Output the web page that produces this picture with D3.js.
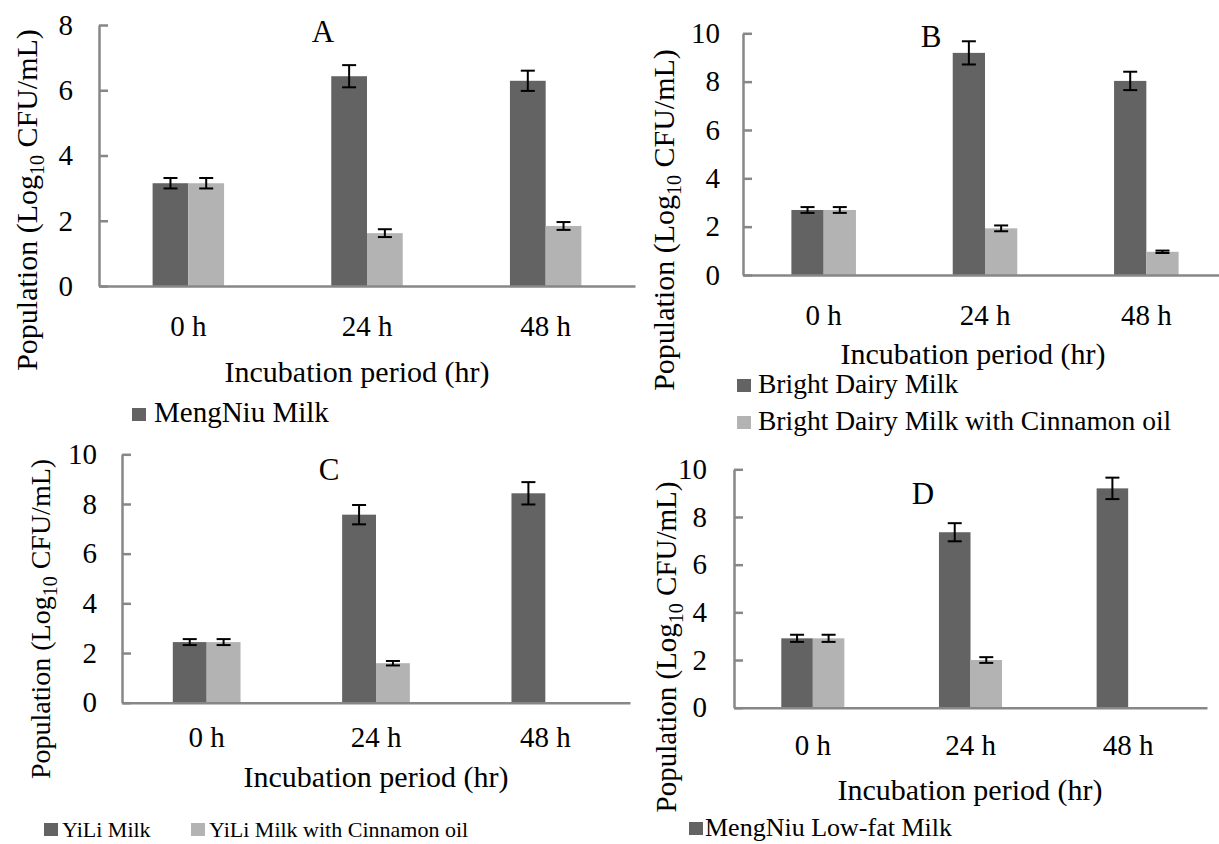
<!DOCTYPE html>
<meta charset="utf-8">
<style>
body { margin: 0; background: #fff; }
text { font-family: "Liberation Serif", "Times New Roman", serif; fill: #000; }
.axis path, .axis line { stroke: #878787; stroke-width: 2.5; }
</style>
<body>
<svg id="fig" width="1219" height="844"></svg>
<script src="https://d3js.org/d3.v7.min.js"></script>
<script>
// x categories
var hours = ["0 h", "24 h", "48 h"];

// A - MengNiu milk
var mengniuMilk = [3.15, 6.43, 6.29];
var mengniuMilkErr = [0.16, 0.34, 0.31];
var mengniuCinn = [3.15, 1.62, 1.84];
var mengniuCinnErr = [0.16, 0.12, 0.12];

// B - Bright Dairy
var brightMilk = [2.69, 9.19, 8.03];
var brightMilkErr = [0.12, 0.48, 0.38];
var brightCinn = [2.69, 1.93, 0.96];
var brightCinnErr = [0.12, 0.12, 0.05];

// C - YiLi
var yiliMilk = [2.44, 7.57, 8.43];
var yiliMilkErr = [0.12, 0.39, 0.45];
var yiliCinn = [2.44, 1.59, null];
var yiliCinnErr = [0.12, 0.09, null];

// D - MengNiu low-fat
var lowfatMilk = [2.91, 7.36, 9.20];
var lowfatMilkErr = [0.15, 0.38, 0.45];
var lowfatCinn = [2.91, 2.00, null];
var lowfatCinnErr = [0.15, 0.12, null];

var yTicksA = [0, 2, 4, 6, 8];
var yTicks = [0, 2, 4, 6, 8, 10];

var legendA = ["MengNiu Milk"];
var legendB = ["Bright Dairy Milk", "Bright Dairy Milk with Cinnamon oil"];
var legendC = ["YiLi Milk", "YiLi Milk with Cinnamon oil"];
var legendD = ["MengNiu Low-fat Milk"];

var colors = ["#636363", "#b3b3b3"];

var svg = d3.select("#fig");

function drawPanel(p) {
    var g = svg.append("g");

    var x0 = d3.scaleBand()
        .domain(hours)
        .range([p.left, p.right])
        .paddingInner(0.6)
        .paddingOuter(0.3);
    var x1 = d3.scaleBand()
        .domain([0, 1])
        .range([0, x0.bandwidth()]);
    var y = d3.scaleLinear()
        .domain([0, p.ymax])
        .range([p.bottom, p.top]);

    var rows = [];
    p.series.forEach(function(s, si) {
        s.forEach(function(v, i) {
            if (v != null) rows.push({cat: hours[i], s: si, v: v, e: p.errs[si][i]});
        });
    });

    g.selectAll(".bar")
        .data(rows)
        .enter().append("rect")
        .attr("x", function(d) { return x0(d.cat) + x1(d.s); })
        .attr("y", function(d) { return y(d.v); })
        .attr("width", x1.bandwidth())
        .attr("height", function(d) { return y(0) - y(d.v); })
        .attr("fill", function(d) { return colors[d.s]; });

    // error bars
    var eb = g.selectAll(".err")
        .data(rows)
        .enter().append("g")
        .attr("transform", function(d) {
            return "translate(" + (x0(d.cat) + x1(d.s) + x1.bandwidth() / 2) + ",0)";
        });
    eb.append("line")
        .attr("y1", function(d) { return y(d.v - d.e); })
        .attr("y2", function(d) { return y(d.v + d.e); })
        .attr("stroke", "#000").attr("stroke-width", 2);
    eb.append("line")
        .attr("x1", -7).attr("x2", 7)
        .attr("y1", function(d) { return y(d.v - d.e); })
        .attr("y2", function(d) { return y(d.v - d.e); })
        .attr("stroke", "#000").attr("stroke-width", 2);
    eb.append("line")
        .attr("x1", -7).attr("x2", 7)
        .attr("y1", function(d) { return y(d.v + d.e); })
        .attr("y2", function(d) { return y(d.v + d.e); })
        .attr("stroke", "#000").attr("stroke-width", 2);

    // axes
    g.append("g")
        .attr("class", "axis")
        .attr("transform", "translate(" + p.left + ",0)")
        .call(d3.axisLeft(y).tickValues(p.ticks).tickSizeInner(-9).tickSizeOuter(0).tickPadding(p.tickPad))
        .selectAll("text")
        .style("font-size", "29px");

    g.append("g")
        .attr("class", "axis")
        .attr("transform", "translate(0," + p.bottom + ")")
        .call(d3.axisBottom(x0).tickSize(0).tickPadding(p.xPad))
        .selectAll("text")
        .style("font-size", "29px");

    g.selectAll(".axis").attr("font-family", null).attr("font-size", null);

    // panel letter
    g.append("text")
        .attr("x", p.letterX)
        .attr("y", p.letterY)
        .attr("text-anchor", "middle")
        .style("font-size", "31px")
        .text(p.letter);

    // axis titles
    g.append("text")
        .attr("x", p.xTitleX)
        .attr("y", p.xTitleY)
        .attr("text-anchor", "middle")
        .style("font-size", "30px")
        .text("Incubation period (hr)");

    var yt = g.append("text")
        .attr("transform", "translate(" + p.yTitleX + "," + p.yTitleY + ") rotate(-90)")
        .attr("text-anchor", "middle")
        .style("font-size", p.yTitleSize + "px");
    yt.append("tspan").text("Population (Log");
    yt.append("tspan").attr("dy", 7).style("font-size", "20px").text("10");
    yt.append("tspan").attr("dy", -7).text(" CFU/mL)");

    // legend
    p.legend.forEach(function(lab, i) {
        var it = p.legendPos[i];
        g.append("rect")
            .attr("x", it[0]).attr("y", it[1] - 14)
            .attr("width", 14).attr("height", 13)
            .attr("fill", colors[i]);
        g.append("text")
            .attr("x", it[0] + p.legendGap).attr("y", it[1])
            .style("font-size", p.legendSize + "px")
            .text(lab);
    });
}

drawPanel({
    letter: "A", letterX: 323, letterY: 42,
    left: 99, right: 635, top: 25, bottom: 286, ymax: 8, ticks: yTicksA,
    tickPad: 26, xPad: 29,
    series: [mengniuMilk, mengniuCinn], errs: [mengniuMilkErr, mengniuCinnErr],
    xTitleX: 357, xTitleY: 382,
    yTitleX: 37, yTitleY: 200, yTitleSize: 30,
    legend: legendA, legendPos: [[132, 422]], legendSize: 29, legendGap: 22
});

drawPanel({
    letter: "B", letterX: 931, letterY: 47,
    left: 743, right: 1227, top: 33.3, bottom: 275, ymax: 10, ticks: yTicks,
    tickPad: 23, xPad: 29,
    series: [brightMilk, brightCinn], errs: [brightMilkErr, brightCinnErr],
    xTitleX: 973, xTitleY: 364,
    yTitleX: 674, yTitleY: 220, yTitleSize: 30,
    legend: legendB, legendPos: [[737, 393], [737, 430]], legendSize: 27.5, legendGap: 21
});

drawPanel({
    letter: "C", letterX: 329, letterY: 480,
    left: 122, right: 630, top: 454.3, bottom: 702.7, ymax: 10, ticks: yTicks,
    tickPad: 25, xPad: 24,
    series: [yiliMilk, yiliCinn], errs: [yiliMilkErr, yiliCinnErr],
    xTitleX: 376, xTitleY: 787,
    yTitleX: 50, yTitleY: 619, yTitleSize: 28,
    legend: legendC, legendPos: [[44, 837], [191, 837]], legendSize: 22, legendGap: 18
});

drawPanel({
    letter: "D", letterX: 923, letterY: 504,
    left: 734, right: 1207, top: 469.3, bottom: 707.7, ymax: 10, ticks: yTicks,
    tickPad: 27, xPad: 27,
    series: [lowfatMilk, lowfatCinn], errs: [lowfatMilkErr, lowfatCinnErr],
    xTitleX: 970, xTitleY: 800,
    yTitleX: 676, yTitleY: 647, yTitleSize: 29,
    legend: legendD, legendPos: [[689, 836]], legendSize: 26, legendGap: 16
});
</script>
</body>
